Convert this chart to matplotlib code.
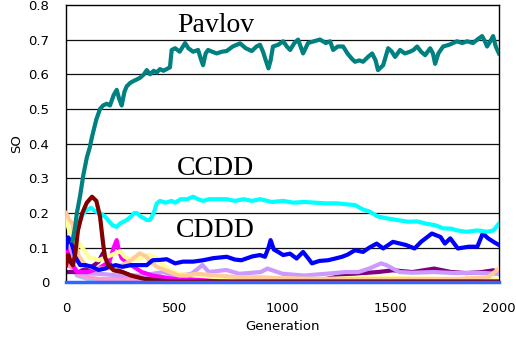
import matplotlib
matplotlib.use('Agg')
from matplotlib import pyplot as plt

# Pavlov (teal)
pavlov_gen = [30, 42, 50, 65, 80, 96, 110, 120, 140, 157, 171, 188, 203, 220, 234, 245, 257, 270, 280, 296,
              310, 327, 342, 360, 373, 388, 405, 419, 434, 450, 465, 480, 488, 504, 525, 550, 565, 587, 610, 625,
              633, 645, 656, 675, 696, 720, 742, 770, 804, 830, 858, 880, 896, 910, 919, 935, 945, 956, 980, 1003,
              1020, 1035, 1055, 1072, 1095, 1118, 1145, 1173, 1200, 1220, 1234, 1255, 1280, 1300, 1320, 1335, 1355,
              1372, 1395, 1414, 1430, 1441, 1465, 1488, 1505, 1520, 1543, 1565, 1589, 1605, 1622, 1640, 1659, 1682,
              1695, 1705, 1720, 1742, 1770, 1806, 1830, 1853, 1880, 1900, 1922, 1935, 1945, 1960, 1973, 1985, 2000]
pavlov_so = [0.12, 0.16, 0.20, 0.25, 0.31, 0.36, 0.39, 0.42, 0.47, 0.50, 0.51, 0.515, 0.51, 0.54, 0.555, 0.53,
             0.51, 0.55, 0.565, 0.575, 0.58, 0.585, 0.59, 0.60, 0.612, 0.60, 0.61, 0.605, 0.615, 0.61, 0.615, 0.62,
             0.67, 0.675, 0.665, 0.69, 0.675, 0.665, 0.67, 0.64, 0.626, 0.66, 0.67, 0.665, 0.66, 0.665, 0.667, 0.68,
             0.689, 0.675, 0.667, 0.68, 0.685, 0.665, 0.647, 0.617, 0.64, 0.68, 0.685, 0.695, 0.68, 0.67, 0.69, 0.70,
             0.66, 0.69, 0.695, 0.70, 0.69, 0.695, 0.67, 0.68, 0.68, 0.66, 0.645, 0.636, 0.64, 0.636, 0.65, 0.66,
             0.64, 0.612, 0.626, 0.675, 0.665, 0.65, 0.67, 0.66, 0.665, 0.67, 0.68, 0.665, 0.655, 0.675, 0.66, 0.63,
             0.66, 0.68, 0.685, 0.695, 0.69, 0.695, 0.69, 0.70, 0.71, 0.695, 0.68, 0.695, 0.71, 0.68, 0.66]

# CCDD (cyan)
ccdd_gen = [50, 65, 80, 100, 115, 135, 157, 180, 200, 215, 234, 250, 265, 280, 300, 315, 327, 345, 360, 373,
            388, 405, 419, 434, 460, 488, 504, 530, 560, 587, 610, 633, 660, 696, 742, 780, 820, 860, 896, 950,
            1003, 1050, 1100, 1150, 1200, 1250, 1300, 1335, 1372, 1400, 1441, 1480, 1530, 1580, 1622, 1660, 1705,
            1742, 1780, 1806, 1850, 1900, 1945, 1975, 2000]
ccdd_so = [0.15, 0.18, 0.20, 0.21, 0.215, 0.205, 0.20, 0.19, 0.175, 0.165, 0.16, 0.17, 0.175, 0.18, 0.19, 0.20,
           0.20, 0.19, 0.185, 0.18, 0.18, 0.20, 0.228, 0.235, 0.23, 0.235, 0.23, 0.24, 0.24, 0.247, 0.24, 0.235,
           0.24, 0.24, 0.24, 0.235, 0.24, 0.235, 0.24, 0.232, 0.235, 0.23, 0.232, 0.23, 0.228, 0.228, 0.225, 0.223,
           0.21, 0.205, 0.19, 0.185, 0.18, 0.175, 0.176, 0.17, 0.165, 0.156, 0.155, 0.15, 0.146, 0.15, 0.146, 0.15,
           0.17]

# CDDD (blue)
cddd_gen = [0, 10, 20, 32, 42, 65, 90, 120, 150, 180, 200, 230, 260, 300, 340, 373, 400, 434, 465, 504, 540, 587,
            633, 680, 742, 780, 810, 860, 896, 919, 935, 945, 960, 980, 1003, 1035, 1065, 1095, 1118, 1136, 1170,
            1210, 1250, 1275, 1300, 1335, 1372, 1400, 1435, 1465, 1510, 1570, 1610, 1640, 1690, 1730, 1750, 1775,
            1810, 1860, 1900, 1925, 1950, 1980, 2000]
cddd_so = [0.10, 0.13, 0.12, 0.10, 0.074, 0.05, 0.05, 0.045, 0.036, 0.04, 0.045, 0.05, 0.045, 0.05, 0.05, 0.05,
           0.064, 0.065, 0.067, 0.055, 0.06, 0.06, 0.064, 0.07, 0.074, 0.066, 0.064, 0.075, 0.079, 0.074, 0.10,
           0.122, 0.095, 0.088, 0.079, 0.083, 0.069, 0.088, 0.07, 0.055, 0.062, 0.064, 0.07, 0.074, 0.08, 0.093,
           0.088, 0.10, 0.112, 0.098, 0.117, 0.108, 0.098, 0.117, 0.141, 0.131, 0.112, 0.127, 0.098, 0.103, 0.103,
           0.141, 0.127, 0.115, 0.108]

# minor strategies
maroon_gen = [0, 10, 20, 32, 42, 55, 75, 96, 120, 140, 157, 171, 180, 195, 220, 260, 300, 350, 400, 500, 2000]
maroon_so = [0.05, 0.08, 0.06, 0.05, 0.08, 0.15, 0.20, 0.23, 0.247, 0.235, 0.19, 0.113, 0.073, 0.05, 0.035,
             0.03, 0.02, 0.012, 0.006, 0.003, 0.003]

purple_gen = [0, 50, 100, 130, 150, 171, 185, 200, 220, 260, 300, 400, 600, 800, 1000, 1200, 1300, 1372,
              1440, 1510, 1600, 1700, 1780, 1850, 1920, 1973, 2000]
purple_so = [0.03, 0.03, 0.04, 0.05, 0.06, 0.085, 0.07, 0.055, 0.04, 0.03, 0.02, 0.01, 0.005, 0.004, 0.005,
             0.01, 0.022, 0.027, 0.03, 0.035, 0.03, 0.04, 0.03, 0.027, 0.03, 0.035, 0.03]

magenta_gen = [0, 20, 50, 100, 150, 200, 220, 234, 245, 257, 270, 300, 350, 400, 500, 800, 2000]
magenta_so = [0.10, 0.06, 0.03, 0.03, 0.04, 0.06, 0.10, 0.122, 0.09, 0.07, 0.064, 0.05, 0.03, 0.02, 0.01, 0.004,
              0.004]

yellow_gen = [0, 15, 42, 75, 105, 150, 210, 250, 270, 300, 340, 380, 420, 450, 480, 520, 600, 700, 800, 1000,
              1200, 1400, 1600, 1800, 2000]
yellow_so = [0.18, 0.15, 0.13, 0.10, 0.074, 0.064, 0.079, 0.09, 0.075, 0.064, 0.07, 0.08, 0.07, 0.05, 0.035,
             0.025, 0.02, 0.015, 0.012, 0.01, 0.01, 0.015, 0.012, 0.01, 0.01]

peach_gen = [0, 15, 30, 42, 60, 90, 135, 200, 260, 300, 340, 370, 390, 420, 460, 520, 560, 600, 700, 800, 900,
             1000, 1200, 1400, 1600, 1800, 1950, 1980, 2000]
peach_so = [0.20, 0.18, 0.17, 0.12, 0.074, 0.05, 0.04, 0.04, 0.05, 0.064, 0.084, 0.075, 0.06, 0.045, 0.035, 0.02,
            0.02, 0.025, 0.02, 0.015, 0.015, 0.012, 0.01, 0.01, 0.01, 0.01, 0.015, 0.03, 0.04]

lavender_gen = [0, 10, 20, 32, 50, 75, 150, 250, 350, 400, 450, 500, 580, 630, 660, 740, 800, 900, 930, 1000,
                1100, 1200, 1290, 1350, 1400, 1455, 1480, 1540, 1600, 1700, 1800, 1900, 2000]
lavender_so = [0.06, 0.10, 0.084, 0.05, 0.035, 0.027, 0.025, 0.02, 0.02, 0.025, 0.03, 0.02, 0.025, 0.05, 0.03,
               0.036, 0.025, 0.03, 0.04, 0.025, 0.02, 0.025, 0.03, 0.03, 0.04, 0.055, 0.05, 0.03, 0.028, 0.03,
               0.027, 0.028, 0.025]

lightblue_gen = [0, 10, 25, 50, 100, 2000]
lightblue_so = [0.05, 0.08, 0.06, 0.02, 0.01, 0.005]

pink_gen = [0, 10, 30, 60, 150, 2000]
pink_so = [0.06, 0.05, 0.04, 0.02, 0.01, 0.005]

zero_gen = [0, 2000]
zero_so = [0.0, 0.0]

xticks = [0, 500, 1000, 1500, 2000]
yticks = [0, 0.1, 0.2, 0.3, 0.4, 0.5, 0.6, 0.7, 0.8]

fig = plt.figure(figsize=(5.16, 3.47), dpi=100)
ax = fig.add_axes([0.128, 0.186, 0.839, 0.80])

for y in yticks[1:-1]:
    ax.axhline(y, color='#101010', linewidth=0.9, zorder=1)

lw = 3.0
ax.plot(lightblue_gen, lightblue_so, color='#99CCFF', linewidth=lw, zorder=2)
ax.plot(pink_gen, pink_so, color='#FF99CC', linewidth=lw, zorder=2)
ax.plot(purple_gen, purple_so, color='#800080', linewidth=lw, zorder=2)
ax.plot(lavender_gen, lavender_so, color='#CC99FF', linewidth=lw, zorder=3)
ax.plot(magenta_gen, magenta_so, color='#FF00FF', linewidth=lw, zorder=3)
ax.plot(yellow_gen, yellow_so, color='#FFFF99', linewidth=lw, zorder=3)
ax.plot(peach_gen, peach_so, color='#FFCC99', linewidth=lw, zorder=4)
ax.plot(cddd_gen, cddd_so, color='#0000FF', linewidth=lw, zorder=4)
ax.plot(ccdd_gen, ccdd_so, color='#00FFFF', linewidth=lw, zorder=5)
ax.plot(maroon_gen, maroon_so, color='#800000', linewidth=lw, zorder=6)
ax.plot(pavlov_gen, pavlov_so, color='#008080', linewidth=lw, zorder=6)
ax.plot(zero_gen, zero_so, color='#3366FF', linewidth=2.5, zorder=7, clip_on=False)

ax.text(690, 0.722, 'Pavlov', family='Liberation Serif', fontsize=20, ha='center', va='baseline')
ax.text(690, 0.309, 'CCDD', family='Liberation Serif', fontsize=20, ha='center', va='baseline')
ax.text(690, 0.130, 'CDDD', family='Liberation Serif', fontsize=20, ha='center', va='baseline')

ax.set_xlim(0, 2000)
ax.set_ylim(0, 0.8)
ax.set_xticks(xticks)
ax.set_yticks(yticks)
ax.set_xticklabels([str(t) for t in xticks])
ax.set_yticklabels(['0'] + ['%.1f' % t for t in yticks[1:]])
ax.tick_params(axis='both', length=0, labelsize=9.5)
ax.tick_params(axis='x', pad=14)
ax.tick_params(axis='y', pad=12)
ax.set_xlabel('Generation', fontsize=9.5, labelpad=4)
ax.set_ylabel('SO', fontsize=9.5, labelpad=4)
for s in ax.spines.values():
    s.set_color('black')
    s.set_linewidth(1.0)

fig.savefig('out.png', dpi=100)
